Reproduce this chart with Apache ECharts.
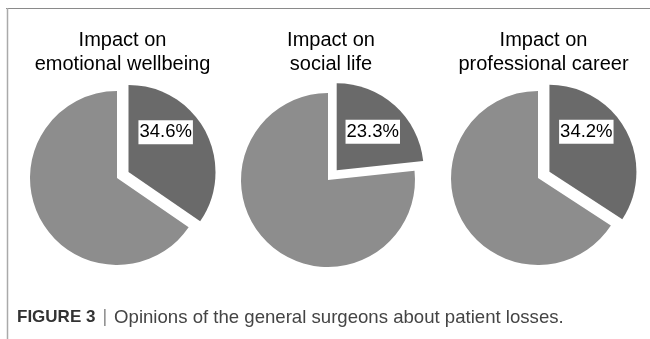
<!DOCTYPE html>
<html><head><meta charset="utf-8">
<script src="https://cdn.jsdelivr.net/npm/echarts@6/dist/echarts.min.js"></script>
<style>html,body{margin:0;padding:0;background:#fff}#c{width:650px;height:339px}</style>
</head><body><div id="c"></div>
<script>
// ---- data ----
const titles = ['Impact on\nemotional wellbeing', 'Impact on\nsocial life', 'Impact on\nprofessional career'];
const categories = ['Affected', 'Not affected'];
const affected = [34.6, 23.3, 34.2];
const notAffected = [65.4, 76.7, 65.8];
const caption = { bold: 'FIGURE 3', rest: 'Opinions of the general surgeons about patient losses.' };

// ---- layout / style ----
const centers = [[117, 178], [328, 180], [538, 178]];
const titleX = [122.5, 331, 543.5];
const labelShift = [[-4, -18], [5, -4], [-4, -18]];
const DARK = '#6a6a6a', LIGHT = '#8d8d8d';
const SANS = '"Liberation Sans", Arial, Helvetica, sans-serif';

const chart = echarts.init(document.getElementById('c'));
const series = affected.map((v, i) => ({
  type: 'pie',
  center: centers[i],
  radius: 87,
  startAngle: 90,
  clockwise: true,
  selectedMode: 'single',
  selectedOffset: 13,
  animation: false,
  silent: true,
  itemStyle: { borderWidth: 0 },
  emphasis: { disabled: true },
  labelLine: { show: false },
  labelLayout: { dx: labelShift[i][0], dy: labelShift[i][1] },
  data: [
    { name: categories[0], value: affected[i], selected: true, itemStyle: { color: DARK },
      label: { show: true, position: 'inside', formatter: p => p.value.toFixed(1) + '%',
        backgroundColor: '#fff', padding: [3, 1, 2, 1], color: '#000', fontSize: 18.5,
        fontFamily: SANS } },
    { name: categories[1], value: notAffected[i], itemStyle: { color: LIGHT }, label: { show: false } }
  ]
}));

chart.setOption({
  animation: false,
  title: titles.map((t, i) => ({
    text: t, left: titleX[i], top: 28, textAlign: 'center', padding: 0,
    textStyle: { fontSize: 20, fontWeight: 'normal', color: '#000', lineHeight: 24, fontFamily: SANS }
  })),
  graphic: [
    { type: 'line', shape: { x1: 6, y1: 8.5, x2: 650, y2: 8.5 }, style: { stroke: '#8a8a8a', lineWidth: 1 }, silent: true },
    { type: 'line', shape: { x1: 7.5, y1: 8, x2: 7.5, y2: 339 }, style: { stroke: '#aaaaaa', lineWidth: 1.5 }, silent: true },
    { type: 'text', left: 17, top: 308, silent: true,
      style: { text: '{b|' + caption.bold + '} {s||} {r|' + caption.rest + '}',
        fontSize: 18, fontFamily: SANS, fill: '#444',
        rich: { b: { fontWeight: 'bold', fontSize: 17, fill: '#333', fontFamily: SANS },
                s: { fill: '#888', fontSize: 18, fontFamily: SANS, padding: [0, 2] },
                r: { fill: '#444', fontSize: 18.6, fontFamily: SANS } } } }
  ],
  series: series
});
</script></body></html>
